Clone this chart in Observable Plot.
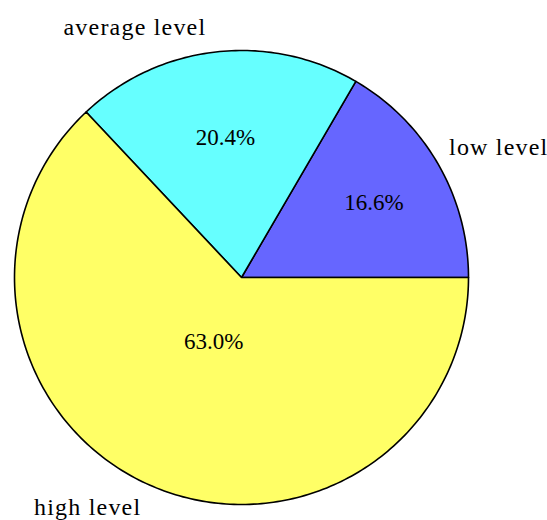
<!DOCTYPE html>
<html>
<head>
<meta charset="utf-8">
<script src="https://cdn.jsdelivr.net/npm/d3@7"></script>
<script src="https://cdn.jsdelivr.net/npm/@observablehq/plot@0.6"></script>
<style>
  html, body { margin: 0; padding: 0; background: #fff; }
  #chart svg { display: block; }
</style>
</head>
<body>
<div id="chart"></div>
<script>
const categories = ["low level", "average level", "high level"];
const shares = [16.6, 20.4, 63.0];
const sliceColors = ["#6666ff", "#66ffff", "#ffff66"];

const W = 547, H = 520;
const cx = 241, cy = 277, R = 227;

const total = d3.sum(shares);
let start = 0;
const slices = categories.map((name, i) => {
  const a0 = start;
  const a1 = start + (shares[i] / total) * 2 * Math.PI;
  start = a1;
  return { name, value: shares[i], a0, a1 };
});

// outline points of each wedge (unit radius), counterclockwise from east
const outline = [];
for (const s of slices) {
  outline.push({ name: s.name, x: 0, y: 0 });
  const n = Math.max(8, Math.ceil((s.a1 - s.a0) / (Math.PI / 180)));
  for (let k = 0; k <= n; k++) {
    const a = s.a0 + (s.a1 - s.a0) * k / n;
    outline.push({ name: s.name, x: Math.cos(a), y: Math.sin(a) });
  }
  outline.push({ name: s.name, x: 0, y: 0 });
}

const pctLabels = slices.map(s => {
  const half = (s.a1 - s.a0) / 2, mid = (s.a0 + s.a1) / 2;
  const d = 2 * Math.sin(half) / (3 * half);
  return { text: s.value.toFixed(1) + "%", x: d * Math.cos(mid), y: d * Math.sin(mid) };
});
const nameLabels = slices.map(s => {
  const mid = (s.a0 + s.a1) / 2;
  return { text: s.name, x: 1.1 * Math.cos(mid), y: 1.1 * Math.sin(mid) };
});

const FONT = "Liberation Serif";
const labelStyle = { fontSize: 24, fontFamily: FONT, fill: "#000" };
const pctStyle = { fontSize: 23, fontFamily: FONT, fill: "#000" };

const chart = Plot.plot({
  width: W,
  height: H,
  margin: 0,
  style: { background: "#fff" },
  x: { domain: [-cx / R, (W - cx) / R], axis: null },
  y: { domain: [-(H - cy) / R, cy / R], axis: null },
  color: { domain: categories, range: sliceColors },
  marks: [
    Plot.line(outline, { x: "x", y: "y", z: "name", fill: "name", stroke: "#000", strokeWidth: 1.6, strokeLinejoin: "round" }),
    Plot.text(pctLabels.slice(0, 1), { x: "x", y: "y", text: "text", dx: 7, dy: -3, ...pctStyle }),
    Plot.text(pctLabels.slice(1), { x: "x", y: "y", text: "text", ...pctStyle }),
    Plot.text(nameLabels.slice(0, 1), { x: "x", y: "y", text: "text", textAnchor: "start", dx: -9, dy: -5.7, ...labelStyle }),
    Plot.text(nameLabels.slice(1, 2), { x: "x", y: "y", text: "text", textAnchor: "end", dx: -7, dy: -1.7, ...labelStyle }),
    Plot.text(nameLabels.slice(2), { x: "x", y: "y", text: "text", textAnchor: "end", dx: -1, dy: 0.5, ...labelStyle })
  ]
});
chart.querySelectorAll("g[aria-label='text']").forEach((g, i) => {
  g.querySelectorAll("text").forEach(t => {
    t.style.fontFamily = FONT;
    if (i >= 2) t.style.letterSpacing = "1.2px";
  });
});
document.getElementById("chart").append(chart);
</script>
</body>
</html>
